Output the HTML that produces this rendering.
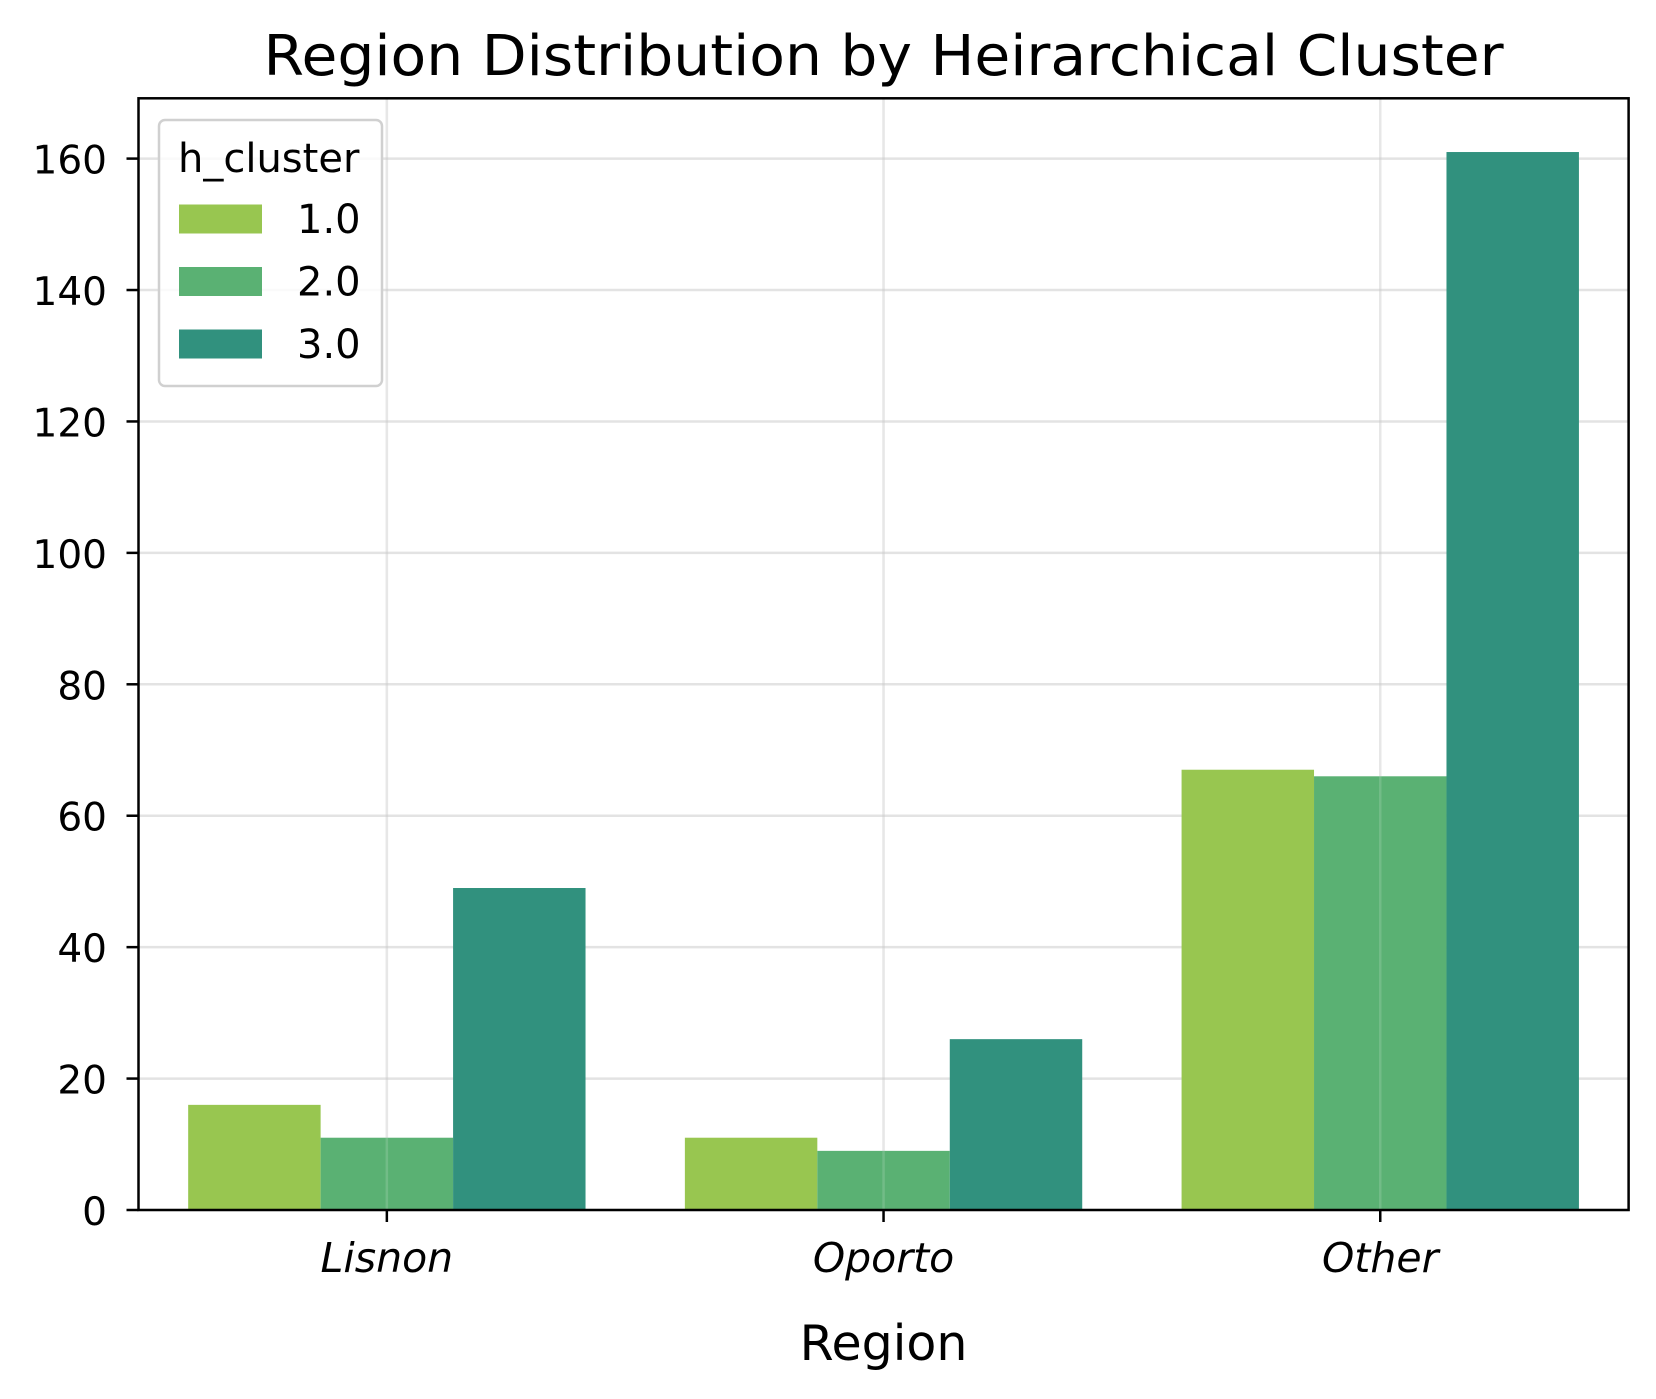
<!DOCTYPE html>
<html><head><meta charset="utf-8"><style>body{margin:0;background:#fff}svg{display:block}</style></head>
<body>
<svg id="chart" width="1656" height="1399" xmlns="http://www.w3.org/2000/svg" font-family="DejaVu Sans, Liberation Sans, sans-serif">
<rect width="1656" height="1399" fill="#fff"/>
<g id="grid"></g><g id="bars"></g><g id="axes"></g>
</svg>
<script>
const categories = ["Lisnon","Oporto","Other"];
const seriesNames = ["1.0","2.0","3.0"];
const s1 = [16,11,67];
const s2 = [11,9,66];
const s3 = [49,26,161];
const yTicks = [0,20,40,60,80,100,120,140,160];
const colors = ["#98c650","#5ab173","#31917e"];
const NS="http://www.w3.org/2000/svg";
const L=138.5,R=1628.6,T=98.3,B=1210;
const perUnit=(B-158.6)/160;
const y=v=>B-v*perUnit;
const step=(R-L)/3;
const x=i=>L+step*(i+0.5);
const bw=step*0.8/3;
function mk(tag,attrs,parent,text){const e=document.createElementNS(NS,tag);for(const k in attrs)e.setAttribute(k,attrs[k]);if(text!==undefined)e.textContent=text;parent.appendChild(e);return e;}
const svg=document.getElementById('chart'),grid=document.getElementById('grid'),bars=document.getElementById('bars'),axes=document.getElementById('axes');
yTicks.forEach(t=>{
 const g=mk('line',{x1:L,x2:R,y1:y(t),y2:y(t),stroke:'#b0b0b0','stroke-opacity':0.35,'stroke-width':2.5},grid);
 
 
 const tk=mk('line',{x1:L-12,x2:L,y1:y(t),y2:y(t),stroke:'#000','stroke-width':2.5},axes);
 
 
 const lb=mk('text',{x:107,y:y(t)+15,'text-anchor':'end','font-size':39},axes,String(t));
 
 
});
categories.forEach((c,i)=>{
 const g=mk('line',{x1:x(i),x2:x(i),y1:T,y2:B,stroke:'#b0b0b0','stroke-opacity':0.35,'stroke-width':2.5},grid);
 
 
 const tk=mk('line',{x1:x(i),x2:x(i),y1:B,y2:B+12,stroke:'#000','stroke-width':2.5},axes);
 
 
 const lb=mk('text',{x:x(i),y:1272,'text-anchor':'middle','font-size':41,'font-style':'italic'},axes,c);
 
 
});
[s1,s2,s3].forEach((ser,si)=>{
 ser.forEach((v,i)=>{
  const bx=x(i)-1.5*bw+si*bw;
  const r=mk('rect',{x:bx,y:y(v),width:bw,height:B-y(v),fill:colors[si]},bars);
  
  
 });
});
categories.forEach((c,i)=>{
 const g=mk('line',{x1:x(i),x2:x(i),y1:T,y2:B,stroke:'#ffffff','stroke-opacity':0.15,'stroke-width':2.5},axes);
 
 
});
const f=mk('rect',{x:L,y:T,width:R-L,height:B-T,fill:'none',stroke:'#000','stroke-width':2.5},axes);


const title=mk('text',{x:(L+R)/2,y:75,'text-anchor':'middle','font-size':56,textLength:1240,lengthAdjust:'spacingAndGlyphs'},axes,'Region Distribution by Heirarchical Cluster');


const xl=mk('text',{x:(L+R)/2,y:1360,'text-anchor':'middle','font-size':49},axes,'Region');


const leg=mk('g',{},axes);


mk('rect',{x:159,y:120,width:223,height:266,rx:6,fill:'#fff','fill-opacity':0.8,stroke:'#d0d0d0','stroke-width':2.5},leg);
const lt=mk('text',{x:178,y:172,'font-size':40},leg,'h_cluster');


seriesNames.forEach((n,i)=>{
 const cy=219+i*62.5;
 const p=mk('rect',{x:179,y:cy-14.5,width:83,height:29,fill:colors[i]},leg);
 
 
 const t=mk('text',{x:297,y:cy+14,'font-size':40},leg,n);
 
 
});
</script>
</body></html>
